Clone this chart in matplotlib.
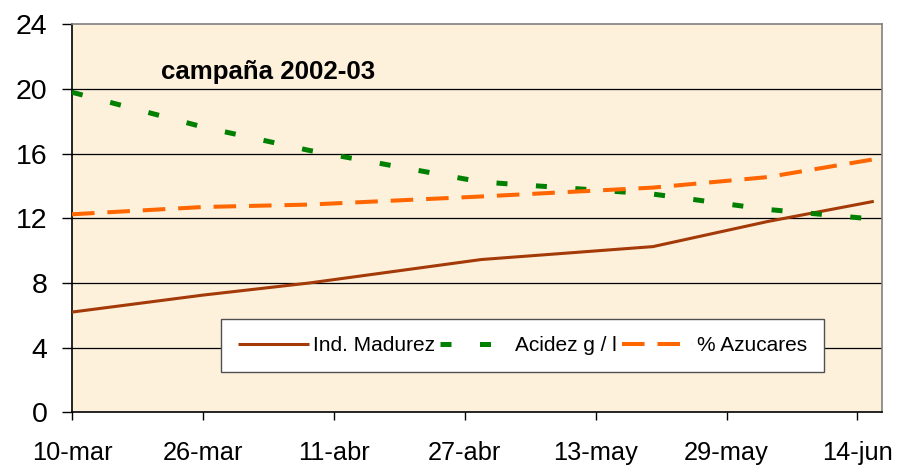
import matplotlib
matplotlib.use("Agg")
import matplotlib.pyplot as plt
import matplotlib.dates as mdates
from datetime import date

# ---- data ----
sample_dates = ["2003-03-10", "2003-03-26", "2003-04-08", "2003-04-29",
                "2003-05-20", "2003-06-03", "2003-06-16"]
ind_madurez = [6.2, 7.25, 8.0, 9.45, 10.25, 11.8, 13.05]
acidez = [19.8, 17.65, 16.2, 14.25, 13.5, 12.55, 11.95]
azucares = [12.25, 12.7, 12.85, 13.35, 13.9, 14.55, 15.65]

tick_dates = ["2003-03-10", "2003-03-26", "2003-04-11", "2003-04-27",
              "2003-05-13", "2003-05-29", "2003-06-14"]
tick_labels = ["10-mar", "26-mar", "11-abr", "27-abr", "13-may", "29-may", "14-jun"]
y_ticks = [0, 4, 8, 12, 16, 20, 24]
title_text = "campaña 2002-03"
series_names = ["Ind. Madurez", "Acidez g / l", "% Azucares"]

plt.rcParams['font.family'] = ['Liberation Sans', 'DejaVu Sans']

def to_num(s):
    y, m, d = map(int, s.split("-"))
    return mdates.date2num(date(y, m, d))

xs = [to_num(s) for s in sample_dates]
xt = [to_num(s) for s in tick_dates]

fig = plt.figure(figsize=(9, 4.68), dpi=100)
fig.patch.set_facecolor("white")
ax = fig.add_axes([0.08, 0.119, 0.9, 0.829])
ax.set_facecolor("#FDF1DC")

ax.plot(xs, ind_madurez, color="#A33A08", lw=2.2, solid_capstyle="butt",
        label=series_names[0], zorder=3)
ax.plot(xs, acidez, color="#008000", lw=3.6, linestyle=(0, (2.2, 5.7)),
        dash_capstyle="butt", label=series_names[1], zorder=3)
ax.plot(xs, azucares, color="#FF6600", lw=2.9, linestyle=(0, (5.6, 3.2)),
        dash_capstyle="butt", label=series_names[2], zorder=3)

ax.set_xlim(xt[0], to_num("2003-06-17"))
ax.set_ylim(0, 24)
ax.set_xticks(xt)
ax.set_xticklabels(tick_labels)
ax.set_yticks(y_ticks)
ax.tick_params(axis="both", direction="out", width=1, color="black")
ax.tick_params(axis="x", labelsize=18.3, length=6, pad=15)
ax.tick_params(axis="y", labelsize=20.5, length=7.5, pad=10)

for yv in y_ticks[1:-1]:
    ax.axhline(yv, color="black", lw=0.9, zorder=1)

ax.spines["left"].set_color("black")
ax.spines["bottom"].set_color("black")
ax.spines["top"].set_color("#808080")
ax.spines["right"].set_color("#808080")
for s in ax.spines.values():
    s.set_linewidth(1.2)

ax.text(0.110, 0.876, title_text, transform=ax.transAxes, fontsize=18.6,
        fontweight="bold", ha="left", va="center")

leg = ax.legend(loc="center", bbox_to_anchor=(0.556, 0.172), ncol=3,
                fontsize=15, frameon=True, fancybox=False, framealpha=1,
                edgecolor="#505050", facecolor="white", handlelength=3.4,
                handletextpad=0.2, columnspacing=0.25, borderpad=0.8,
                borderaxespad=0)
leg.get_frame().set_linewidth(1.0)

fig.savefig("out.png", dpi=100)
